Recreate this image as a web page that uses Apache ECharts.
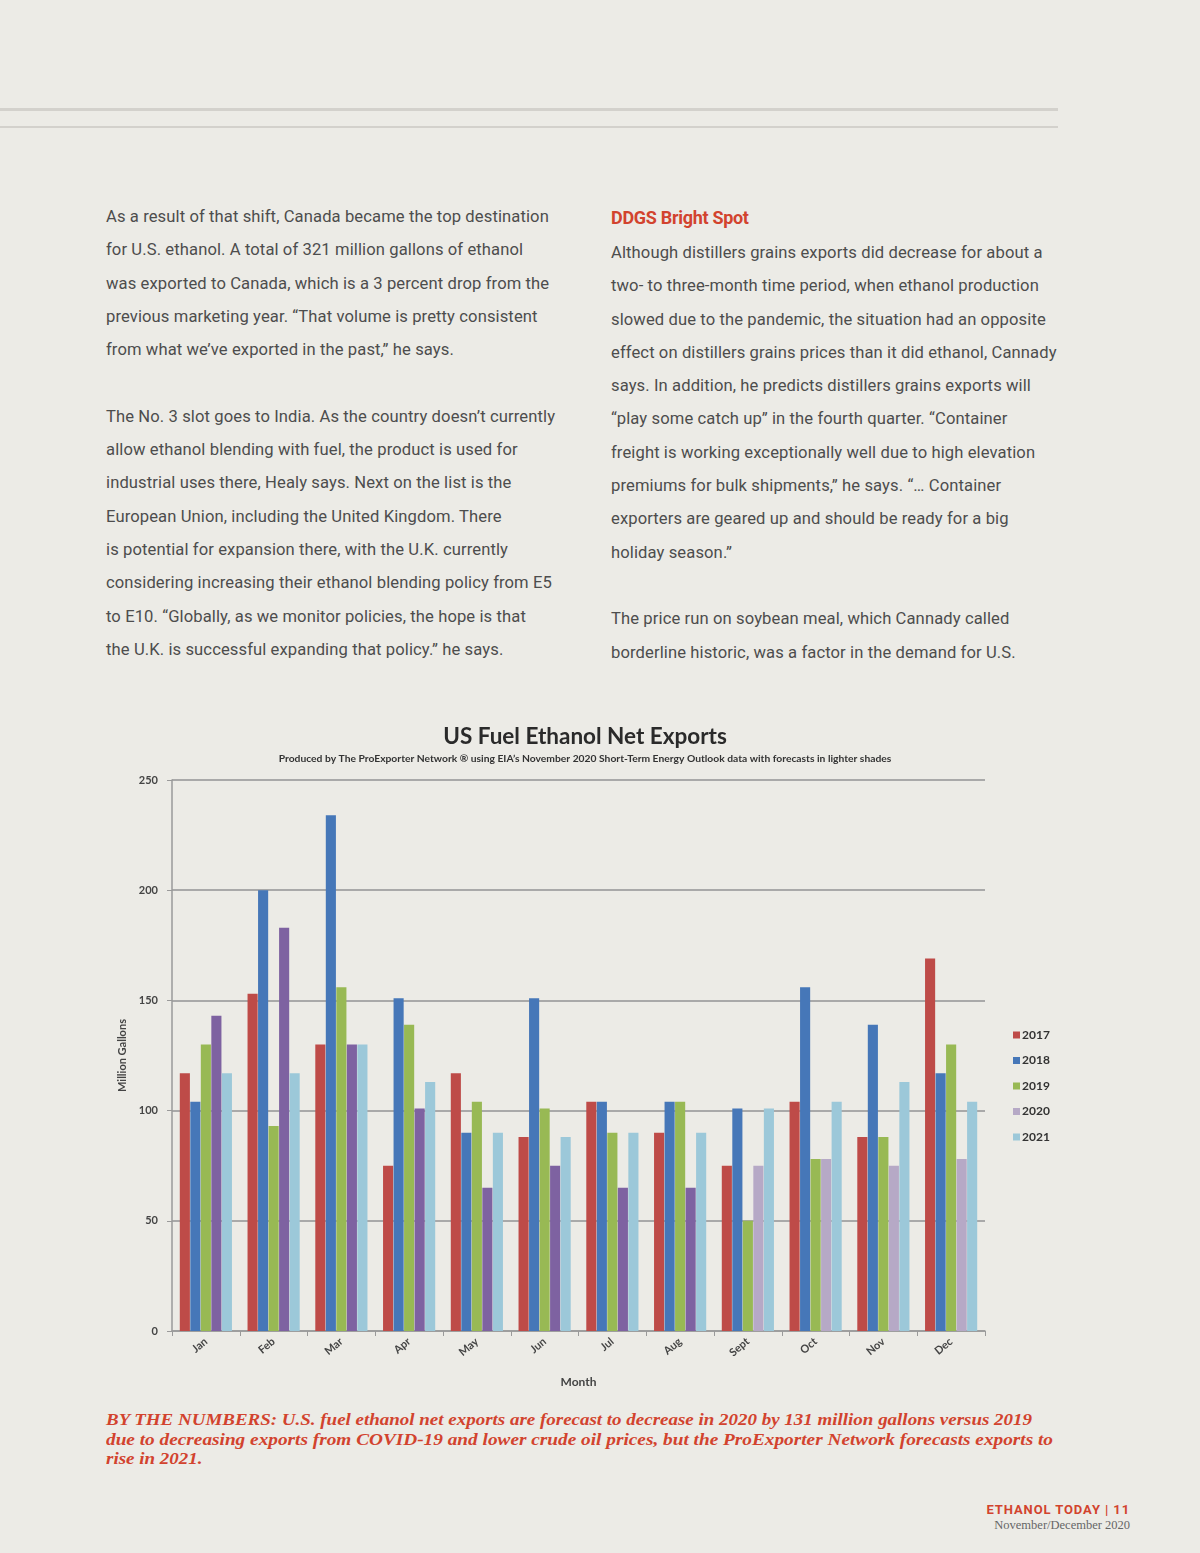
<!DOCTYPE html>
<html>
<head>
<meta charset="utf-8">
<script src="https://cdn.jsdelivr.net/npm/echarts@6/dist/echarts.min.js"></script>
<style>
  html, body { margin:0; padding:0; }
  body { width:1200px; height:1553px; background:#ecebe6; position:relative; overflow:hidden; font-family:Roboto, "Open Sans", sans-serif; }
  .rule { position:absolute; left:0; width:1058px; background:#d3d1cc; }
  .col { position:absolute; font-size:16.6px; line-height:33.3px; color:#4d4d4d; white-space:nowrap; letter-spacing:0.1px; }
  .col div { height:33.3px; }
  .head { color:#d2432e; font-weight:bold; font-size:18px; letter-spacing:-0.3px; }
  .cap { position:absolute; left:106px; top:1410px; font-family:"Liberation Serif", serif; font-style:italic; font-weight:bold; font-size:17px; line-height:19.5px; color:#d2432e; white-space:nowrap; }
  .cap div { height:19.5px; transform-origin:0 0; }
  .foot1 { position:absolute; right:70px; top:1502px; font-family:"Liberation Sans Narrow", "Roboto", sans-serif; font-weight:bold; font-size:13px; color:#d2432e; letter-spacing:0.9px; white-space:nowrap; }
  .foot2 { position:absolute; right:70px; top:1518px; font-family:"Liberation Serif", serif; font-size:12.5px; color:#666; white-space:nowrap; }
  #chart { position:absolute; left:0; top:690px; width:1100px; height:720px; }
</style>
</head>
<body>
<div class="rule" style="top:108px;height:3px;"></div>
<div class="rule" style="top:126px;height:2px;"></div>

<div class="col" style="left:106px;top:200px;">
<div>As a result of that shift, Canada became the top destination</div>
<div>for U.S. ethanol. A total of 321 million gallons of ethanol</div>
<div>was exported to Canada, which is a 3 percent drop from the</div>
<div>previous marketing year. “That volume is pretty consistent</div>
<div>from what we’ve exported in the past,” he says.</div>
<div></div>
<div>The No. 3 slot goes to India. As the country doesn’t currently</div>
<div>allow ethanol blending with fuel, the product is used for</div>
<div>industrial uses there, Healy says. Next on the list is the</div>
<div>European Union, including the United Kingdom. There</div>
<div>is potential for expansion there, with the U.K. currently</div>
<div>considering increasing their ethanol blending policy from E5</div>
<div>to E10. “Globally, as we monitor policies, the hope is that</div>
<div>the U.K. is successful expanding that policy.” he says.</div>
</div>

<div class="col" style="left:611px;top:201px;">
<div class="head">DDGS Bright Spot</div>
<div style="margin-top:1.7px">Although distillers grains exports did decrease for about a</div>
<div>two- to three-month time period, when ethanol production</div>
<div>slowed due to the pandemic, the situation had an opposite</div>
<div>effect on distillers grains prices than it did ethanol, Cannady</div>
<div>says. In addition, he predicts distillers grains exports will</div>
<div>“play some catch up” in the fourth quarter. “Container</div>
<div>freight is working exceptionally well due to high elevation</div>
<div>premiums for bulk shipments,” he says. “… Container</div>
<div>exporters are geared up and should be ready for a big</div>
<div>holiday season.”</div>
<div></div>
<div>The price run on soybean meal, which Cannady called</div>
<div>borderline historic, was a factor in the demand for U.S.</div>
</div>

<div id="chart"></div>

<div class="cap" id="cap">
<div id="cap1">BY THE NUMBERS: U.S. fuel ethanol net exports are forecast to decrease in 2020 by 131 million gallons versus 2019</div>
<div id="cap2">due to decreasing exports from COVID-19 and lower crude oil prices, but the ProExporter Network forecasts exports to</div>
<div id="cap3">rise in 2021.</div>
</div>

<div class="foot1">ETHANOL TODAY | 11</div>
<div class="foot2">November/December 2020</div>

<script>
// ---- data ----
const months = ['Jan','Feb','Mar','Apr','May','Jun','Jul','Aug','Sept','Oct','Nov','Dec'];
const yTicks = [0, 50, 100, 150, 200, 250];
const years = ['2017','2018','2019','2020','2021'];
const v2017 = [117, 153, 130, 75, 117, 88, 104, 90, 75, 104, 88, 169];
const v2018 = [104, 200, 234, 151, 90, 151, 104, 104, 101, 156, 139, 117];
const v2019 = [130, 93, 156, 139, 104, 101, 90, 104, 50, 78, 88, 130];
const v2020 = [143, 183, 130, 101, 65, 75, 65, 65, 75, 78, 75, 78];
const v2021 = [117, 117, 130, 113, 90, 88, 90, 90, 101, 104, 113, 104];
const forecast2020 = [false,false,false,false,false,false,false,false,true,true,true,true];

// ---- caption fit (condense each line horizontally to its printed width) ----
(function(){
  const range = document.createRange();
  function width(el){ range.selectNodeContents(el); return range.getBoundingClientRect().width; }
  const e1 = document.getElementById('cap1'), e2 = document.getElementById('cap2'), e3 = document.getElementById('cap3');
  const s1 = 926 / width(e1), s2 = 947 / width(e2);
  e1.style.transform = 'scaleX(' + s1 + ')';
  e2.style.transform = 'scaleX(' + s2 + ')';
  e3.style.transform = 'scaleX(' + s1 + ')';
})();

const colors = {
  '2017': '#be4b48', '2018': '#4677b8', '2019': '#98b954',
  '2020': '#b6a9c6', '2021': '#9cc8d9'
};
const dark2020 = '#7e62a1';

const chart = echarts.init(document.getElementById('chart'), null, {renderer:'canvas'});
const font = 'Lato, "Open Sans", sans-serif';

function series(name, vals, dataFn){
  return {
    name, type:'bar',
    data: dataFn ? vals.map(dataFn) : vals,
    itemStyle:{ color: colors[name] },
    barCategoryGap:'23%', barGap:'4%',
    emphasis:{ disabled:true }
  };
}

chart.setOption({
  backgroundColor:'transparent',
  animation:false,
  title:[
    { text:'US Fuel Ethanol Net Exports', left:580, top:30, textAlign:'center',
      textStyle:{ fontFamily:font, fontSize:22.5, fontWeight:'bold', color:'#2a2a2a' } },
    { text:'Produced by The ProExporter Network \u00AE using EIA\u2019s November 2020 Short-Term Energy Outlook data with forecasts in lighter shades',
      left:580, top:59, textAlign:'center',
      textStyle:{ fontFamily:font, fontSize:10.3, fontWeight:'bold', color:'#333' } }
  ],
  legend:{
    orient:'vertical', left:1008, top:334, itemWidth:7, itemHeight:7, itemGap:13.5,
    icon:'rect', data: years,
    textStyle:{ fontFamily:font, fontSize:12, fontWeight:'bold', color:'#333', padding:[0,0,0,-3] }
  },
  grid:{ left:172, top:90, width:813, height:551, containLabel:false },
  xAxis:{
    type:'category', data: months,
    name:'Month', nameLocation:'middle', nameGap:45,
    nameTextStyle:{ fontFamily:font, fontSize:12, fontWeight:'bold', color:'#444' },
    axisLine:{ show:true, lineStyle:{ color:'#9a9a9a', width:1.5 } },
    axisTick:{ show:true, alignWithLabel:false, length:5, lineStyle:{ color:'#9a9a9a' } },
    axisLabel:{ rotate:40, margin:9, fontFamily:font, fontSize:11, fontWeight:'bold', color:'#444' }
  },
  yAxis:{
    type:'value', min:yTicks[0], max:yTicks[yTicks.length-1], interval:yTicks[1]-yTicks[0],
    name:'Million Gallons', nameLocation:'middle', nameGap:42, nameRotate:90,
    nameTextStyle:{ fontFamily:font, fontSize:11, fontWeight:'bold', color:'#444' },
    axisLine:{ show:true, lineStyle:{ color:'#9a9a9a', width:1.5 } },
    axisTick:{ show:true, length:5, lineStyle:{ color:'#9a9a9a' } },
    axisLabel:{ margin:14, fontFamily:font, fontSize:11, fontWeight:'bold', color:'#444' },
    splitLine:{ show:true, lineStyle:{ color:'#a9a9a9', width:2 } }
  },
  series:[
    series('2017', v2017),
    series('2018', v2018),
    series('2019', v2019),
    series('2020', v2020, (v,i)=> forecast2020[i] ? v : {value:v, itemStyle:{color:dark2020}}),
    series('2021', v2021)
  ]
});
</script>
</body>
</html>
